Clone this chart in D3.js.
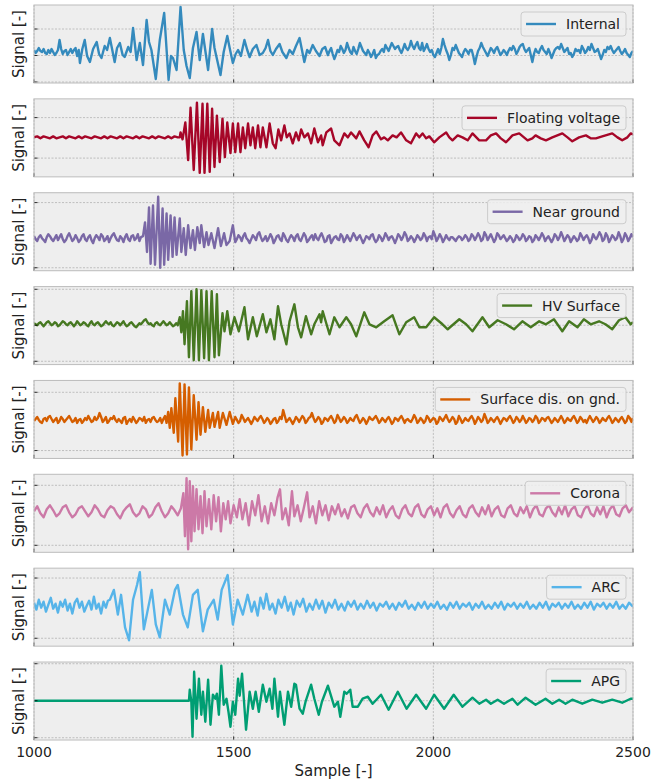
<!DOCTYPE html>
<html lang="en">
<head>
<meta charset="utf-8">
<title>Signals</title>
<script src="https://d3js.org/d3.v7.min.js"></script>
<style>
  body { margin: 0; background: #fff; }
  text { font-family: "DejaVu Sans", sans-serif; fill: #222; }
</style>
</head>
<body>
<script>
// x axis
var xDomain = [1000, 2500];
var xTicks = [1000, 1500, 2000, 2500];

var names = ["Internal", "Floating voltage", "Near ground", "HV Surface",
             "Surface dis. on gnd.", "Corona", "ARC", "APG"];
var colors = ["#348ABD", "#A60628", "#7A68A6", "#467821",
              "#D55E00", "#CC79A7", "#56B4E9", "#009E73"];

// y range and tick values of each panel (signal units)
var yDomains = [[-31, 47], [-40, 39], [-33, 46], [-39.3, 38.7],
                [-39, 40], [-41, 37], [-41, 38], [-39.3, 38.7]];
var yTicks = [[-30, -3.5, 23], [-21, 20], [-30, 36], [-36, 0, 36],
              [-31, 28], [-34, 26], [-33, 28], [-37, 0, 37]];

// quiet stretches: one value every 4 samples
var internalHead = [2,-1,1,4,1,0,3,-1,-2,2,-1,3,0,-3,-1,2,12,3,-2,1,2,-3,0,3,-1,2,4,-4,2];
var internalTail = [-3,1,4,-2,-7,-3,2,0,6,3, -1,2,9,4,0,-2,5,1,-2,3, 9,5,1,-1,-3,2,-1,-5,-2,2,
  -6,-3,-2,1,3,0,7,4,1,5, 9,6,3,5,6,2,-1,3,8,4, 2,5,11,6,3,7,10,4,2,9, 1,4,8,3,0,2,-3,-5,-1,3,
  -2,4,13,7,2,-2,-8,-3,4,2, 7,3,-1,-3,-5,0,3,1,-2,2, 2,-4,-12,-5,1,4,9,5,2,-1, -4,0,4,2,-1,3,5,1,-3,-1,
  2,0,-3,1,4,2,6,3,-2,1, 5,7,8,3,0,2,4,-3,-10,-2, 3,0,-1,3,6,2,0,-2,3,-1, -6,-2,2,4,5,3,8,4,0,2,
  4,-2,-1,-5,-2,3,1,2,-1,6, 3,-1,1,5,2,8,4,0,1,3, -2,-7,-3,2,0,5,3,6,2,-1, 1,3,5,1,-2,0,3,-1,-3,-5, -1,1];
var nearHead = [2,-1,-3,1,3,0,-2,-4,1,4, 2,-1,-3,0,3,-2,1,4,-1,-4, -2,2,5,1,-3,-1,3,0,-4,-2,
  2,4,-1,-3,1,3,-2,-5,0,3, 1,-2,4,2,-3,-1,2,-4,0,3, 5,1,-2,-3,2,0,-4,1,4,-1, -3,2,3,-2,0,4,-3,1];
var nearTail = [-4,-1,3,1,-3,2,5,0,-2,-5, -1,3,1,-2,4,6,1,-3,-1,2, -3,0,4,1,-5,-2,2,3,-1,-3,
  5,2,-2,-4,0,3,1,-3,2,4, -1,-3,1,5,2,-4,-2,1,3,-2, 4,0,-2,2,5,1,-4,-3,2,3, -5,-2,1,2,-1,-2,4,2,-4,-1,
  3,0,-3,1,5,2,-2,1,3,-1, -5,-2,2,1,-1,3,4,-1,-4,-2, 3,1,-3,0,5,2,-2,1,2,-1, -5,-1,4,2,-2,1,6,3,-3,-1,
  2,0,-4,-1,3,1,-2,0,5,2, -3,1,2,-1,7,3,-3,0,4,1, -4,-1,3,0,-2,1,1,-1,-3,0, 2,1,-2,0,3,1,-3,-1,4,2,
  -2,1,5,2,-3,-1,6,3,-2,1, 4,0,-4,-1,5,3,-1,1,3,0, -3,-1,2,0,-4,-2,3,1,-2,0, 4,2,-3,-1,2,1,-4,-2,3,1,
  -2,1,5,2,-3,0,2,-1,-4,-1, 4,2,-2,1,6,2,-3,0,3,1, -4,-1,2,0,-3,-1,5,2,-2,1, 3,0,-5,-2,4,1,-1,2,6,3,
  -3,-1,5,2,-4,-1,3,1,-2,0, 6,2,-4,-1,5,2,-3,0,4,1];
var hvHead = [2,1,0,2,3,1,-1,1,3,4, 2,0,1,3,2,-1,0,2,4,3, 1,0,2,3,1,-1,1,4,2,0, 1,3,2,0,-1,2,4,1,0,2,
  3,1,-1,0,2,4,2,1,3,0, -1,1,3,2,0,2,4,1,-1,0, 2,3,1,-1,-2,0,2,1,3,5, 6,3,1,2,0,-1,2,3,1,0, 2,4,2,0,1,3,1,-1,0,2, 0];
var surfHead = [-1,1,3,0,-2,-3,1,2,-1,3, 4,1,-2,0,2,-3,-1,3,1,-2, 0,2,4,1,-2,-1,2,-3,0,1,
  -3,-1,2,0,4,1,-2,-1,3,0, 2,7,3,-2,0,3,-3,-1,2,1, 4,0,-2,1,-1,-3,2,3,-4,-1, 1,-2,3,0,-3,-1,2,1,-1,3,
  -3,0,1,-2,2,3,0,-2,-1,2, -3,1,4];
var surfTail = [3,0,-3,-1,5,2,-2,0,2,-1, -4,-1,3,1,-1,2,4,1,-3,-1, 2,0,-4,-2,1,2,-3,-1,3,1,
  10,4,-2,0,2,-1,-4,-1,3,1, -2,1,4,2,-3,-1,2,3,7,2, -2,0,3,1,-4,-2,2,1,-1,2, 4,1,-3,-1,5,2,-2,0,3,1,
  -3,-1,2,0,-1,3,5,1,-3,-1, 2,0,-4,-1,3,1,0,2,4,1, -3,-1,2,0,-2,1,3,0,-4,-2, 2,1,-1,2,4,1,-3,0,1,-1,
  -2,1,5,2,-3,-1,2,0,-3,-1, 4,2,-2,0,2,1,-4,-2,3,1, -1,2,5,1,-2,0,3,1,-4,-2, 4,1,-3,-1,2,0,-1,2,4,1,
  -4,-1,3,1,-2,0,6,2,-3,-1, 2,0,-2,1,3,0,-4,-1,2,1, -1,2,4,1,-3,-1,3,1,-2,0, 4,1,-3,-1,2,1,-2,0,4,2,
  -3,-1,2,1,-1,2,3,0,-3,-1, 2,0,-2,1,4,1,-3,-1,2,0, -1,2,4,1,-3,-1,3,1,-2,0, -3,1,4,1,-2,0,3,1,-3,-1,
  2,0,-1,2,4,1,-3,-1,2,0, -2,1,3,0,-3,-1,4,2,-2,2];

// [sample, signal] around the bursts
var internalBurst = [[1115,-11],[1121,3],[1127,12],[1133,-4],[1140,-10],[1148,3],[1157,10],[1163,-2],[1169,-6],[1177,6],[1183,2],[1190,14],[1197,0],[1202,-10],[1208,4],[1215,9],[1222,-3],[1227,-5],[1236,5],[1242,0],[1248,24],[1257,-8],[1265,9],[1273,-13],[1282,32],[1288,10],[1294,2],[1305,-27],[1315,12],[1326,39],[1337,-28],[1343,-4],[1348,-6],[1357,-18],[1367,45],[1375,2],[1382,-14],[1390,-26],[1398,4],[1407,20],[1415,-8],[1423,18],[1436,-18],[1446,23],[1452,4],[1457,-5],[1467,-23],[1475,0],[1484,16],[1490,4],[1498,-11],[1505,-2],[1511,2],[1518,-4],[1527,12],[1534,2],[1540,-5],[1548,3],[1557,7],[1565,-3],[1573,-1],[1580,4],[1586,12],[1592,1],[1598,-3],[1606,3],[1615,8],[1622,0],[1632,-6],[1640,2],[1648,-2],[1656,6],[1665,14],[1671,2],[1677,-10],[1684,2],[1690,-1],[1698,7],[1706,1],[1715,-4],[1722,3],[1729,5]];

var floating = [[1000,0],[1008,1],[1016,-1],[1024,1],[1032,0],[1040,-1],[1048,1],[1056,-1],[1064,0],[1072,1],[1080,-1],[1088,1],[1096,0],[1104,-1],[1112,1],[1120,-1],[1128,1],[1136,0],[1144,-1],[1152,1],[1160,0],[1168,-1],[1176,1],[1184,-1],[1192,1],[1200,0],[1208,-1],[1216,1],[1224,-1],[1232,1],[1240,0],[1248,-1],[1256,1],[1264,-1],[1272,1],[1280,0],[1288,-1],[1296,1],[1304,-1],[1312,1],[1320,0],[1328,-1],[1336,1],[1344,-1],[1352,1],[1360,0],
[1365,0],[1367,5],[1372,-2],[1379,15],[1386,-23],[1392,30],[1400,-33],[1408,35],[1415,-36],[1422,34],[1427,-36],[1434,34],[1440,-35],[1446,29],[1452,-30],[1458,22],[1465,-25],[1472,19],[1478,-20],[1484,15],[1492,-16],[1498,14],[1504,-15],[1511,14],[1517,-15],[1523,10],[1529,-11],[1536,14],[1542,-8],[1548,10],[1554,-11],[1561,12],[1567,-10],[1573,10],[1582,-10],[1590,14],[1598,-6],[1605,-11],[1612,8],[1619,-3],[1627,12],[1633,0],[1640,4],[1648,-6],[1656,5],[1663,-3],[1669,8],[1677,0],[1686,4],[1694,-6],[1702,9],[1711,-5],[1719,2],[1723,-8],[1732,5],
[1744,9],[1752,-3],[1765,-8],[1777,4],[1786,0],[1794,5],[1807,-1],[1815,6],[1827,-3],[1838,-10],[1848,2],[1857,6],[1869,-2],[1877,0],[1886,-3],[1898,2],[1908,0],[1919,5],[1932,-3],[1944,-6],[1957,4],[1965,0],[1973,4],[1982,-1],[1990,1],[2002,-5],[2015,0],[2032,5],[2040,0],[2048,-3],[2061,2],[2073,0],[2086,-3],[2098,4],[2115,-3],[2132,-3],[2144,2],[2157,4],[2169,-1],[2182,-5],[2198,2],[2215,4],[2236,-3],[2248,-1],[2256,2],[2269,-1],[2282,-3],[2298,0],[2323,4],[2336,0],[2348,-4],[2365,0],[2382,2],[2394,-1],[2407,-1],[2423,1],[2448,4],[2461,0],[2473,-3],[2486,0],[2494,4],[2500,3]];

var nearBurst = [[1273,2],[1278,16],[1283,-14],[1288,31],[1292,-26],[1298,33],[1303,-27],[1311,42],[1316,-30],[1322,30],[1326,-27],[1332,25],[1336,-22],[1342,23],[1347,-19],[1352,21],[1357,-17],[1365,20],[1369,-14],[1375,10],[1380,-17],[1386,13],[1392,-10],[1398,8],[1403,-12],[1409,11],[1415,-5],[1419,13],[1426,-9],[1432,6],[1437,-7],[1444,5],[1452,-10],[1461,10],[1468,-8],[1476,5],[1482,-7],[1490,-3],[1498,13]];

var hvBurst = [[1365,8],[1369,-7],[1373,14],[1377,-19],[1383,24],[1388,-32],[1394,34],[1400,-35],[1407,36],[1413,-35],[1419,35],[1426,-33],[1432,34],[1438,-35],[1445,34],[1452,-32],[1458,31],[1463,-30],[1472,12],[1477,-6],[1484,14],[1492,-9],[1502,8],[1513,-6],[1527,18],[1536,-14],[1548,8],[1558,-11],[1573,11],[1582,-7],[1592,6],[1602,-14],[1611,19],[1619,1],[1632,-19],[1640,4],[1652,21],[1661,-2],[1669,-12],[1681,9],[1694,-9],[1702,1],[1715,11],[1719,3],
[1723,14],[1740,-9],[1752,8],[1765,-2],[1782,8],[1794,1],[1807,-11],[1827,13],[1840,1],[1857,-2],[1877,4],[1898,10],[1915,-9],[1932,3],[1952,8],[1965,-2],[1982,-2],[2002,8],[2023,1],[2036,-4],[2065,6],[2082,1],[2098,-6],[2123,8],[2140,-2],[2161,5],[2182,1],[2202,-4],[2223,4],[2244,-2],[2265,4],[2282,1],[2302,6],[2323,-6],[2340,4],[2361,-2],[2377,6],[2394,1],[2415,4],[2431,1],[2448,-4],[2465,5],[2481,8],[2494,1],[2500,3]];

var surfBurst = [[1332,-3],[1336,8],[1340,-8],[1344,12],[1350,-13],[1354,22],[1361,-22],[1365,37],[1372,-36],[1377,36],[1383,-35],[1388,33],[1394,-30],[1400,25],[1407,-20],[1412,18],[1417,-15],[1423,13],[1429,-12],[1436,10],[1440,-8],[1448,7],[1452,-7],[1461,8],[1465,-8],[1473,7],[1482,-5],[1490,8],[1498,-4]];

var corona = [[1000,0],[1008,5],[1016,-2],[1024,-6],[1032,2],[1040,6],[1048,1],[1056,-5],[1064,-2],[1072,4],[1080,6],[1088,-1],[1096,-6],[1104,-3],[1112,3],[1120,5],[1128,0],[1136,-5],[1144,-1],[1152,6],[1160,2],[1168,-4],[1176,-6],[1184,1],[1192,5],[1200,3],[1208,-3],[1216,-7],[1224,0],[1232,4],[1240,7],[1248,-1],[1256,-5],[1264,-2],[1272,5],[1280,2],[1288,-6],[1296,-3],[1304,4],[1312,8],[1320,0],[1328,-6],[1336,-2],[1344,5],[1352,1],[1360,-4],[1368,3],
[1374,18],[1378,-25],[1382,33],[1386,-38],[1390,30],[1394,-30],[1398,25],[1402,-20],[1407,22],[1412,-18],[1417,15],[1422,-22],[1427,20],[1432,-15],[1438,12],[1444,-18],[1450,16],[1456,-10],[1462,14],[1468,-20],[1474,8],[1480,-8],[1486,10],[1492,-12],[1500,6],[1508,-6],[1515,12],[1522,-8],[1530,8],[1538,-14],[1546,10],[1554,-4],[1562,16],[1570,-10],[1578,5],[1586,-12],[1594,8],[1602,-4],[1610,14],[1616,22],[1622,-8],[1630,3],[1638,-14],[1646,20],[1652,-5],[1660,6],[1668,-10],[1676,4],[1684,19],[1690,-6],[1698,5],[1706,-12],[1714,10],[1722,-4],[1730,6],[1738,-9],
[1746,5],[1754,-3],[1762,7],[1770,-5],[1778,2],[1786,-7],[1794,4],[1802,6],[1810,-2],[1818,-6],[1826,3],[1834,7],[1842,-1],[1850,-5],[1858,4],[1866,-3],[1874,6],[1882,-6],[1890,1],[1898,5],[1906,-4],[1914,-7],[1922,2],[1930,6],[1938,-2],[1946,-5],[1954,4],[1962,7],[1970,-3],[1978,-6],[1986,2],[1994,5],[2002,-4],[2010,3],[2018,-6],[2026,4],[2034,7],[2042,-2],[2050,-6],[2058,1],[2066,5],[2074,-3],[2082,-6],[2090,3],[2098,6],[2106,-1],[2114,-5],[2122,4],[2130,-3],[2138,6],[2146,-5],[2154,2],[2162,5],[2170,-4],[2178,-6],[2186,3],[2194,6],[2202,-2],[2210,-5],[2218,4],[2226,-2],[2234,5],[2242,-6],[2250,2],[2258,6],[2266,-3],[2274,-5],[2282,3],[2290,6],[2298,-1],[2306,-5],[2314,4],[2322,-3],[2330,6],[2338,-5],[2346,2],[2354,5],[2362,-4],[2370,-6],[2378,2],[2386,6],[2394,-2],[2402,-5],[2410,4],[2418,-3],[2426,5],[2434,-6],[2442,2],[2450,6],[2458,-3],[2466,-5],[2474,3],[2482,6],[2490,-1],[2500,4]];

var arc = [[1000,3],[1006,-4],[1012,6],[1018,-2],[1024,4],[1030,-6],[1036,1],[1042,8],[1048,-3],[1054,2],[1060,-7],[1066,4],[1072,-1],[1078,6],[1084,-5],[1090,2],[1096,-8],[1102,3],[1108,7],[1114,-2],[1120,4],[1126,-6],[1132,0],[1138,5],[1144,-4],[1150,9],[1156,-3],[1162,2],[1168,-8],[1174,4],[1180,-2],[1185,5],
[1190,6],[1200,16],[1210,-9],[1218,11],[1228,-22],[1238,-35],[1248,6],[1258,21],[1265,34],[1275,-24],[1285,-4],[1295,16],[1305,-19],[1315,-32],[1328,6],[1340,-9],[1353,16],[1360,21],[1373,-9],[1385,-22],[1398,11],[1410,16],[1423,-26],[1435,-4],[1450,6],[1460,-14],[1470,16],[1485,31],[1498,-19],[1510,6],[1523,-9],[1535,11],
[1545,-6],[1552,4],[1560,-10],[1567,8],[1575,-3],[1582,12],[1590,-4],[1597,2],[1605,-8],[1612,6],[1620,-2],[1628,9],[1636,-5],[1643,3],[1650,-9],[1658,5],[1666,-1],[1674,7],[1682,-6],[1690,2],[1698,-4],[1706,6],[1714,-3],[1722,5],[1730,-7],[1738,3],[1746,-2],[1754,6],[1762,-4],[1770,2],[1778,-5],[1786,4],[1794,-1],[1802,5],[1810,-4],[1818,2],[1826,-3],[1834,5],[1842,-2],[1850,3],[1858,-5],[1866,2],[1874,-1],[1882,4],[1890,-3],[1898,2],[1906,-4],[1914,3],[1922,-1],[1930,5],[1938,-3],[1946,1],[1954,-4],[1962,3],[1970,-2],[1978,4],[1986,-3],[1994,2],[2002,-2],[2010,4],[2018,-3],[2026,1],[2034,-4],[2042,3],[2050,-2],[2058,4],[2066,-3],[2074,2],[2082,-1],[2090,3],[2098,-4],[2106,2],[2114,-2],[2122,4],[2130,-3],[2138,1],[2146,-3],[2154,3],[2162,-2],[2170,4],[2178,-4],[2186,2],[2194,-1],[2202,3],[2210,-3],[2218,2],[2226,-2],[2234,4],[2242,-3],[2250,1],[2258,-3],[2266,3],[2274,-2],[2282,4],[2290,-4],[2298,2],[2306,-1],[2314,3],[2322,-3],[2330,2],[2338,-2],[2346,4],[2354,-3],[2362,1],[2370,-3],[2378,3],[2386,-2],[2394,4],[2402,-4],[2410,2],[2418,-1],[2426,3],[2434,-3],[2442,2],[2450,-2],[2458,4],[2466,-3],[2474,1],[2482,-3],[2490,3],[2500,-1]];

var apg = [[1000,0],[1388,0],
[1390,11],[1394,-1],[1397,-36],[1401,29],[1407,-18],[1413,22],[1419,-14],[1423,9],[1429,-21],[1436,21],[1442,-24],[1448,6],[1454,2],[1458,7],[1463,-14],[1469,35],[1475,-4],[1482,2],[1487,-11],[1492,-26],[1498,-1],[1504,-14],[1511,22],[1515,5],[1521,27],[1531,-29],[1540,9],[1548,-8],[1555,9],[1563,-11],[1573,16],[1582,-1],[1590,12],[1597,-8],[1602,22],[1611,-16],[1616,9],[1627,-24],[1636,9],[1644,-6],[1652,17],[1656,16],[1665,-8],[1673,-13],[1680,-1],[1694,16],[1702,2],[1713,-14],[1721,-1],[1736,15],
[1752,-6],[1761,-1],[1767,-16],[1777,9],[1783,7],[1792,11],[1798,-6],[1811,-6],[1823,2],[1836,4],[1848,-3],[1869,6],[1888,-9],[1911,9],[1933,-8],[1957,6],[1982,-8],[2002,6],[2027,-8],[2051,6],[2073,-6],[2098,3],[2115,-3],[2132,1],[2144,-3],[2161,1],[2177,-3],[2198,2],[2211,-4],[2231,3],[2256,-4],[2281,2],[2298,-3],[2315,1],[2331,-3],[2348,1],[2373,-3],[2398,1],[2423,-2],[2448,1],[2473,-2],[2494,2],[2500,2]];

// turn an evenly sampled stretch into [sample, signal] pairs
function grid(start, step, vals) {
  return vals.map(function(v, k) { return [start + k * step, v]; });
}

var series = [
  grid(1000, 4, internalHead).concat(internalBurst, grid(1736, 4, internalTail)),
  floating,
  grid(1000, 4, nearHead).concat(nearBurst, grid(1504, 4, nearTail)),
  grid(1000, 4, hvHead).concat(hvBurst),
  grid(1000, 4, surfHead).concat(surfBurst, grid(1504, 4, surfTail)),
  corona, arc, apg
];

var w = 652, h = 782;
var plotLeft = 34, plotRight = 633;
var firstTop = 5, panelStep = 93.86, panelH = 78;

var svg = d3.select("body").append("svg")
    .attr("width", w).attr("height", h);

var x = d3.scaleLinear().domain(xDomain).range([plotLeft, plotRight]);

names.forEach(function(name, i) {
  var top = firstTop + i * panelStep;
  var y = d3.scaleLinear().domain(yDomains[i]).range([top + panelH, top]);
  var g = svg.append("g");

  g.append("rect")
    .attr("x", plotLeft).attr("y", top)
    .attr("width", plotRight - plotLeft).attr("height", panelH)
    .attr("fill", "#eeeeee");

  // grid
  g.selectAll(".gx").data(xTicks).enter().append("line")
    .attr("x1", d => x(d)).attr("x2", d => x(d))
    .attr("y1", top).attr("y2", top + panelH)
    .attr("stroke", "#b2b2b2").attr("stroke-width", 0.8)
    .attr("stroke-dasharray", "2,1.5");
  g.selectAll(".gy").data(yTicks[i]).enter().append("line")
    .attr("x1", plotLeft).attr("x2", plotRight)
    .attr("y1", d => y(d)).attr("y2", d => y(d))
    .attr("stroke", "#b2b2b2").attr("stroke-width", 0.8)
    .attr("stroke-dasharray", "2,1.5");

  svg.append("clipPath").attr("id", "clip" + i).append("rect")
    .attr("x", plotLeft).attr("y", top)
    .attr("width", plotRight - plotLeft).attr("height", panelH);

  var line = d3.line().x(d => x(d[0])).y(d => y(d[1]));
  g.append("path")
    .datum(series[i])
    .attr("clip-path", "url(#clip" + i + ")")
    .attr("d", line)
    .attr("fill", "none")
    .attr("stroke", colors[i])
    .attr("stroke-width", 2.4)
    .attr("stroke-linejoin", "round");

  // inward ticks
  g.selectAll(".tx").data(xTicks).enter().append("line")
    .attr("x1", d => x(d)).attr("x2", d => x(d))
    .attr("y1", top + panelH).attr("y2", top + panelH - 3.5)
    .attr("stroke", "#000").attr("stroke-width", 0.8);
  g.selectAll(".ty").data(yTicks[i]).enter().append("line")
    .attr("x1", plotLeft).attr("x2", plotLeft + 3.5)
    .attr("y1", d => y(d)).attr("y2", d => y(d))
    .attr("stroke", "#000").attr("stroke-width", 0.8);

  g.append("rect")
    .attr("x", plotLeft).attr("y", top)
    .attr("width", plotRight - plotLeft).attr("height", panelH)
    .attr("fill", "none").attr("stroke", "#bcbcbc").attr("stroke-width", 1);

  // legend
  var lg = g.append("g");
  var box = lg.append("rect");
  var label = lg.append("text")
    .attr("x", plotRight - 13).attr("y", top + 24)
    .attr("text-anchor", "end")
    .style("font-size", "14px")
    .text(name);
  var tw = label.node().getComputedTextLength();
  var tx = plotRight - 13 - tw;
  lg.append("line")
    .attr("x1", tx - 40).attr("x2", tx - 10)
    .attr("y1", top + 19).attr("y2", top + 19)
    .attr("stroke", colors[i]).attr("stroke-width", 2.4);
  box.attr("x", tx - 45).attr("y", top + 7)
    .attr("width", tw + 51).attr("height", 24)
    .attr("rx", 3)
    .attr("fill", "#eeeeee").attr("fill-opacity", 0.85)
    .attr("stroke", "#cccccc").attr("stroke-width", 1);

  svg.append("text")
    .attr("transform", "translate(" + 24 + "," + (top + panelH / 2) + ") rotate(-90)")
    .attr("text-anchor", "middle")
    .style("font-size", "15px")
    .text("Signal [-]");

  if (i === names.length - 1) {
    svg.selectAll(".xl").data(xTicks).enter().append("text")
      .attr("x", d => x(d)).attr("y", top + panelH + 17)
      .attr("text-anchor", "middle")
      .style("font-size", "14px")
      .text(d => d);
  }
});

svg.append("text")
  .attr("x", (plotLeft + plotRight) / 2).attr("y", 776)
  .attr("text-anchor", "middle")
  .style("font-size", "15px")
  .text("Sample [-]");
</script>
</body>
</html>
